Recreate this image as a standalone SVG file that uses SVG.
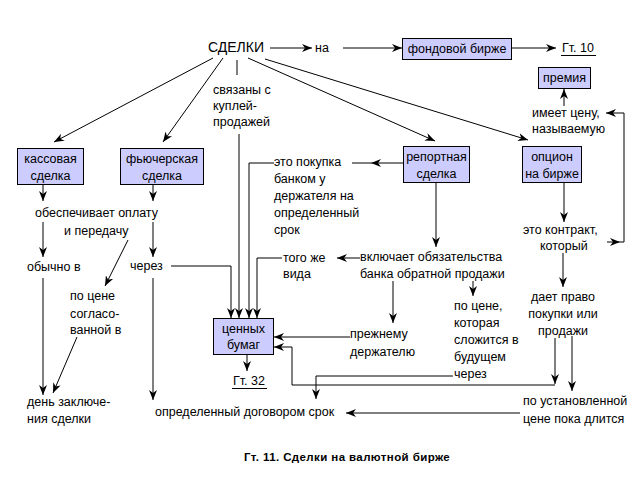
<svg xmlns="http://www.w3.org/2000/svg" width="640" height="480" viewBox="0 0 640 480">
<defs>
<marker id="ah" markerUnits="userSpaceOnUse" markerWidth="11" markerHeight="8" refX="10" refY="4" orient="auto">
<path d="M0,0 L10,4 L0,8 L3,4 z" fill="#000"/>
</marker>
<style>
text{font-family:"Liberation Sans",Arial,sans-serif;font-size:12.5px;fill:#000}
.c{text-anchor:middle}
.big{font-size:14px}
.cap{font-size:11.5px;font-weight:bold;letter-spacing:0.4px}
.box{fill:#ccccff;stroke:#000;stroke-width:1}
.ln{fill:none;stroke:#000;stroke-width:1}
.ar{fill:none;stroke:#000;stroke-width:1;marker-end:url(#ah)}
.am{fill:none;stroke:#000;stroke-width:1;marker-mid:url(#ah)}
</style>
</defs>
<rect width="640" height="480" fill="#fff"/>

<g id="connectors">
<path class="ar" d="M270,48 L312,48"/>
<path class="ar" d="M343,48 L402,48"/>
<path class="ar" d="M512,48 L556,48"/>
<path class="ar" d="M213,58 L54,142"/>
<path class="ar" d="M223,58 L163,142"/>
<path class="ln" d="M237,60 L237,75"/>
<path class="ar" d="M248,58 L435,141"/>
<path class="ar" d="M265,59 L528,140"/>
<path class="ar" d="M43,185 L43,201"/>
<path class="ar" d="M153,185 L153,201"/>
<path class="ar" d="M43,222 L43,257"/>
<path class="ar" d="M153,222 L153,257"/>
<path class="ar" d="M43,278 L43,395"/>
<path class="ar" d="M153,278 L153,400"/>
<path class="ar" d="M128,240 L105,286"/>
<path class="ar" d="M77,337 L53,393"/>
<path class="ar" d="M171,266 L231,266 L231,318"/>
<path class="ar" d="M239,134 L239,318"/>
<path class="ar" d="M274,163 L249,163 L249,318"/>
<path class="ar" d="M282,258 L257,258 L257,318"/>
<path class="am" d="M403,163 L371,163 L352,163"/>
<path class="ar" d="M360,258 L337,258"/>
<path class="ar" d="M436,183 L436,247"/>
<path class="ar" d="M393,281 L393,323"/>
<path class="ar" d="M473,281 L473,296"/>
<path class="ar" d="M350,337 L274,337"/>
<path class="ar" d="M453,376 L316,376 L316,399"/>
<path class="ar" d="M555,338 L555,384"/>
<path class="ar" d="M555,385 L292,385 L292,347 L274,347"/>
<path class="ar" d="M572,336 L572,391"/>
<path class="ar" d="M520,413 L346,413"/>
<path class="ar" d="M564,183 L564,222"/>
<path class="ar" d="M563,253 L563,287"/>
<path class="ar" d="M564,106 L564,89"/>
<path class="ar" d="M607,242 L620,242"/>
<path class="ar" d="M620,242 L624,242 L624,113 L606,113"/>
<path class="ar" d="M247,355 L247,371"/>
</g>

<g id="n-sdelki"><text class="big" x="208" y="52">СДЕЛКИ</text></g>
<g id="n-na"><text x="315" y="52">на</text></g>
<g id="n-fond"><rect class="box" x="402.5" y="38.5" width="109" height="21"/><text class="c" x="457" y="53">фондовой бирже</text></g>
<g id="n-gt10"><text x="562" y="52">Гт. 10</text><path class="ln" d="M561,55.5 L596,55.5"/></g>
<g id="n-premia"><rect class="box" x="538.5" y="67.5" width="52" height="21"/><text class="c" x="564.5" y="82">премия</text></g>
<g id="n-imeet"><text x="532" y="117">имеет цену,</text><text x="532" y="133">называемую</text></g>
<g id="n-svyazany"><text x="213" y="94">связаны с</text><text x="213" y="110">куплей-</text><text x="213" y="126">продажей</text></g>
<g id="n-kass"><rect class="box" x="17.5" y="148.5" width="66" height="36"/><text class="c" x="50.5" y="163">кассовая</text><text class="c" x="50.5" y="180">сделка</text></g>
<g id="n-fut"><rect class="box" x="120.5" y="148.5" width="83" height="36"/><text class="c" x="162" y="163">фьючерская</text><text class="c" x="162" y="180">сделка</text></g>
<g id="n-report"><rect class="box" x="403.5" y="146.5" width="66" height="36"/><text class="c" x="436.5" y="161">репортная</text><text class="c" x="436.5" y="178">сделка</text></g>
<g id="n-option"><rect class="box" x="522.5" y="146.5" width="59" height="36"/><text class="c" x="552" y="161">опцион</text><text class="c" x="552" y="178">на бирже</text></g>
<g id="n-obesp"><text x="35" y="217">обеспечивает оплату</text><text x="64" y="235">и передачу</text></g>
<g id="n-obychno"><text x="27" y="271">обычно в</text></g>
<g id="n-cherez1"><text x="130" y="270">через</text></g>
<g id="n-pocene1"><text x="70" y="300">по цене</text><text x="70" y="318">согласо-</text><text x="70" y="334">ванной в</text></g>
<g id="n-den"><text x="27" y="406">день заключе-</text><text x="27" y="423">ния сделки</text></g>
<g id="n-opred"><text x="155" y="416">определенный договором срок</text></g>
<g id="n-pokupka"><text x="274" y="166">это покупка</text><text x="274" y="183">банком у</text><text x="274" y="200">держателя на</text><text x="274" y="217">определенный</text><text x="274" y="234">срок</text></g>
<g id="n-togo"><text x="283" y="262">того же</text><text x="283" y="278">вида</text></g>
<g id="n-vkl"><text x="360" y="261">включает обязательства</text><text x="360" y="278">банка обратной продажи</text></g>
<g id="n-prezh"><text x="350" y="338">прежнему</text><text x="350" y="356">держателю</text></g>
<g id="n-pocene2"><text x="454" y="310">по цене,</text><text x="454" y="327">которая</text><text x="454" y="344">сложится в</text><text x="454" y="361">будущем</text><text x="454" y="378">через</text></g>
<g id="n-kontrakt"><text x="523" y="234">это контракт,</text><text x="540" y="250">который</text></g>
<g id="n-daet"><text class="c" x="563" y="301">дает право</text><text class="c" x="563" y="318">покупки или</text><text class="c" x="563" y="335">продажи</text></g>
<g id="n-ustan"><text x="523" y="405">по установленной</text><text x="523" y="423">цене пока длится</text></g>
<g id="n-cennyh"><rect class="box" x="213.5" y="318.5" width="60" height="36"/><text class="c" x="243.5" y="333">ценных</text><text class="c" x="243.5" y="349">бумаг</text></g>
<g id="n-gt32"><text x="233" y="385">Гт. 32</text><path class="ln" d="M232,388.5 L267,388.5"/></g>
<g id="caption"><text class="cap c" x="347" y="461">Гт. 11. Сделки на валютной бирже</text></g>
</svg>
